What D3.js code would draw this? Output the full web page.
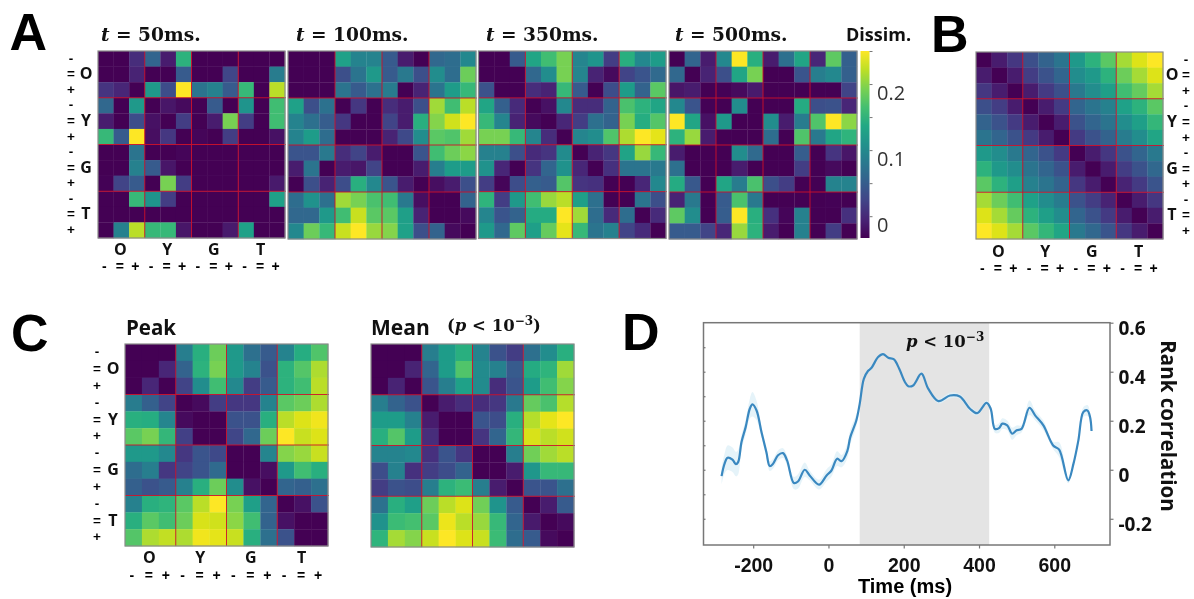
<!DOCTYPE html>
<html>
<head>
<meta charset="utf-8">
<script src="https://cdn.jsdelivr.net/npm/d3@7"></script>
<style>
  html,body{margin:0;padding:0;background:#fff;}
  svg{display:block;filter:blur(0.45px);}
  text{font-family:"Open Sans",sans-serif;fill:#111;}
  .serif{font-family:"DejaVu Serif",serif;font-weight:bold;}
  .sinal,.letra{font-family:"Liberation Sans",sans-serif;font-weight:bold;fill:#000;}
</style>
</head>
<body>
<div id="grafico"></div>
<script>
// niveis de cor 0-10 (0 = escuro, 10 = amarelo)
const t50=[
[0,0,1.5,3.4,1,6.5,0,0,.2,0,0,.2],
[0,0,1.2,.2,.2,3,0,0,2.3,0,0,4.3],
[1.7,1.3,0,5.5,2.5,10,4,4.5,3,6.8,0,9],
[3.5,0,5.5,.2,.8,.5,.2,3,.2,5.3,.1,7],
[1,0,2.5,.7,.2,2,.1,1,8,2,0,7],
[6.8,3,10,.6,1.8,.1,.4,.1,2,0,0,.7],
[0,0,4,.1,.1,.4,0,0,0,0,0,0],
[0,0,4.5,3,.8,.1,0,0,0,.2,0,0],
[.3,2.2,3,.1,8,2,0,0,0,0,0,.9],
[0,0,6.8,5.3,2,0,0,.2,0,0,0,5.8],
[0,0,0,0,0,0,0,0,0,0,0,0],
[0,4.5,9,6.8,6.8,.8,0,0,.9,5.8,0,0]];
const t100=[
[0,0,0,5.8,4.6,4.6,3,1,0,3.5,3.7,4.8],
[0,0,0,2.6,4,5.5,3,4.2,2.6,5,3.7,7.8],
[0,0,0,4,3,3.9,4.3,0,1.2,4,5.6,6.8],
[5.8,2.6,3.9,0,1.8,0,1.5,1,2.6,8.6,7,9],
[4.6,3.8,3.1,1.8,0,0,2.2,1,6.4,8.2,9.3,10],
[4.6,5.6,3.7,0,0,0,1.2,2.4,5,7.5,7.3,8.6],
[2.8,2.8,4.2,1.5,2.2,1,0,0,2.8,7,7.8,8.3],
[1,4,0,1,.8,2.2,0,0,1,4.4,5.6,5.6],
[0,2.6,1.2,2.5,6.4,4.8,2.8,1,0,.6,1,2.6],
[3.7,5.2,3.8,8.6,8,7.2,7,4.2,.6,0,0,3.3],
[3.5,3.5,5.5,7,9.2,7.5,7.5,5.7,1.2,0,0,.5],
[4.8,7.8,6.8,9.2,10,8.5,8.2,5.8,2.6,3.3,.5,0]];
const t350=[
[0,0,3,6,7,8,4.7,5.3,2,6.4,4.8,5.6],
[0,0,0,3.5,5,8,4.7,1.2,.5,2.2,2.8,3.6],
[2.7,0,0,1.5,1.2,6.8,3,0,2.5,5.6,3.3,7.5],
[6,3.2,1.4,0,.7,4.8,1.5,1.5,3.3,7.2,6.5,6],
[6.8,4.7,1.2,.5,0,1.3,2,3.8,3.3,8,6.3,7.4],
[8,8,6.8,4.7,1.5,0,4.7,5,7.3,8.8,10,9.6],
[4.5,4.5,2.6,1.4,1.7,4.9,0,1.2,1.8,5.9,8.5,6.8],
[5.2,1.3,0,1.7,3.4,5.2,1.3,0,1.6,4,4,4.2],
[2,.4,2.5,3.2,3,7.4,1.7,1.6,0,0,1.3,4.8],
[6.6,2,5.5,7,8.5,9,5.7,3.8,0,0,4,2.6],
[4.7,2.8,3.3,6.2,6.2,10,8.6,3.7,1.4,3.7,0,1.4],
[5.5,3.5,7.6,5.7,7.7,9.6,6.8,4,4.5,2.2,1.4,0]];
const t500=[
[0,3.4,1,4.8,10,6.4,1,3.8,6,1.3,7.6,3.2],
[3.5,0,1.2,2.6,6,8,0,0,2.8,4.4,4.8,3.2],
[.8,1,0,.3,.5,.9,0,0,0,0,0,2.2],
[4.8,2.8,.3,0,5,0,0,0,6.2,2.6,2.7,1.3],
[10,6,.7,5.5,0,0,5,1,4.3,7.3,10,8.3],
[6.5,8.5,1,0,0,0,3.7,.2,7.3,4.2,6,6.6],
[1,0,0,0,5,3.6,0,0,3.1,0,1.7,.8],
[3.8,0,0,0,1,0,0,0,2,0,.5,0],
[6.2,2.9,0,6,4.3,7.2,2.6,2,0,0,4.6,4.6],
[1.2,4.2,0,3,7.2,4.2,0,0,0,0,.3,0],
[7.6,5,0,3.1,10,6.4,1.6,.4,4.5,.2,0,1.6],
[3,3,2.2,1.3,8.5,6.5,1,.2,4.5,.2,2,0]];
const modelo=[
[0,1,1.8,2.6,3.3,4,5.5,6.5,7.5,8.7,9.5,10],
[1,0,1,2,2.7,3.4,5,5.5,6.5,7.8,8.7,9.5],
[1.8,1,0,1,1.9,2.6,4.2,5,5.7,7,7.7,8.7],
[2.6,2,1,0,1,1.9,3.4,4,4.5,5.8,6.5,7.5],
[3.3,2.7,1.9,1,0,1,2.7,3.4,4,5,5.7,6.7],
[4,3.4,2.7,1.9,1,0,1.9,2.7,3.3,4.3,5,6],
[5.5,5,4.2,3.4,2.7,1.9,0,1,1.8,2.7,3.4,4.2],
[6.5,5.5,5,4,3.4,2.7,1,0,1,2,2.7,3.5],
[7.5,6.5,5.7,4.5,4,3.3,1.8,1,0,1.2,1.9,2.8],
[8.7,7.8,7,5.8,5,4.3,2.7,2,1.2,0,1,1.8],
[9.5,8.7,7.7,6.5,5.7,5,3.4,2.7,1.9,1,0,1],
[10,9.5,8.7,7.5,6.7,6,4.2,3.5,2.8,1.8,1,0]];
const pico=[
[0,0,0,4.4,6.4,7.8,5.5,3.8,3,4.6,6.3,7.3],
[0,0,1.3,3.3,6.5,8,5.5,4.6,2.7,6.5,7.4,8.8],
[0,1.3,0,2.2,5,7,4.8,2,3,6.5,7,9],
[4.3,3.2,2.2,0,.5,2,1.8,1.8,4.6,7.5,7.8,8.8],
[6.4,6.3,4.7,.5,0,0,2.7,2.7,6.4,9,9.5,9.8],
[7.5,8,6.7,2.1,0,0,2.3,3.5,7.8,10,9.2,9.5],
[5.5,5.5,4.8,1.8,2.8,2.4,0,.2,4.7,8.2,8.5,9.2],
[3.7,4.4,1.8,2.2,2.8,3.6,.2,0,.6,5.5,7,6.4],
[3.2,2.7,3,4.5,6.4,7.8,5,.7,0,3.4,3.2,3.8],
[4.5,6.4,6.6,7.5,9,10,8,5.7,3.4,0,.7,2.7],
[6.4,7.5,7,7.8,9.4,9.3,8.3,7,3.3,.7,0,0],
[7.4,8.8,9.1,8.8,9.8,9.6,9.2,6.4,3.8,2.7,0,0]];
const media=[
[0,0,0,4.4,5.6,6.4,4.6,2.7,2,3.8,5,6.4],
[0,0,1.2,3.4,5.6,7.3,4.9,4.5,3,6.2,6.6,8.6],
[0,1.2,0,2.8,4.4,5.8,4.9,1.5,2.8,5.6,7,8.2],
[4.4,3.3,2.7,0,1,1.5,1.5,1.8,4.2,7.7,7.2,8.9],
[5.6,5.6,4.5,1,0,0,2.8,2.5,6.4,8.9,9.6,10],
[6.4,7.4,5.6,1.5,0,0,1.7,3.4,6.7,9.4,9,9.3],
[4.6,4.6,4.8,1.6,2.8,1.8,0,.1,4.4,7.9,8.6,9],
[2.5,4.5,1.6,2,2.5,3.3,.1,0,1,5.4,6.8,6.8],
[2,2.7,2.5,4.4,6.5,6.9,4.4,1,0,2.8,2.8,3.8],
[3.9,6.4,5.7,7.8,9,9.5,7.9,5.3,3,0,1,3],
[5.2,6.9,7.1,7.5,9.7,9,8.5,6.8,3.4,.9,0,.5],
[6.6,8.7,8.2,9.2,10,9.5,9.2,6.9,3.7,3,.5,0]];

const grupos=['O','Y','G','T'];
const sinais=['-','=','+'];
const ticksBarra=[0,0.05,0.1,0.15,0.2,0.25,-0.05];
const rotulosBarra=[0,0.1,0.2];

// painel D
const tempos=[-284,-276,-268,-255,-246,-240,-231,-220,-209,-202,-191,-178,-165,-156,-147,-134,-121,-110,-92,-81,-63,-50,-25,-5,8,23,35,50,58,74,83,94,105,114,132,145,159,174,188,203,212,225,247,265,292,323,349,376,395,420,431,442,453,462,475,488,500,513,534,549,571,597,613,637,651,664,677,688,695,699];
const correl=[-.026,.025,.049,.041,.023,.031,.113,.174,.249,.267,.242,.154,.072,.015,.025,.059,.068,.038,-.054,-.048,0,-.023,-.061,-.023,-.003,.045,.035,.076,.133,.201,.269,.371,.403,.415,.46,.472,.457,.45,.412,.358,.341,.344,.392,.331,.28,.303,.299,.249,.231,.273,.249,.167,.17,.188,.181,.147,.161,.167,.253,.222,.181,.099,.082,-.043,.025,.12,.235,.242,.215,.158];
const erro=[.035,.04,.05,.05,.05,.05,.03,.03,.04,.05,.04,.02,.02,.02,.02,.02,.02,.02,.025,.03,.03,.02,.02,.025,.025,.03,.025,.03,.03,.025,.01,.008,.008,.008,.006,.006,.006,.006,.006,.006,.006,.006,.006,.006,.01,.012,.01,.012,.01,.01,.012,.016,.02,.022,.02,.025,.02,.015,.03,.02,.02,.015,.03,.012,.012,.012,.02,.022,.018,.008];
const ticksX=[-200,0,200,400,600];
const ticksY=[-0.2,0,0.2,0.4,0.6];
const janela=[83,427];

const svg=d3.select('#grafico').append('svg').attr('width',1194).attr('height',599);
const cor=d3.scaleSequential(d3.interpolateViridis).domain([.25,10]).clamp(true);
const vermelho='#cf1029';
const idx=d3.range(12);

function matriz(dados,x0,y0,lado,ladoY){
  const g=svg.append('g');
  const x=d3.scaleBand().domain(idx).range([x0,x0+lado]);
  const y=d3.scaleBand().domain(idx).range([y0,y0+(ladoY||lado)]);
  g.selectAll('g').data(dados).join('g').selectAll('rect')
    .data((linha,i)=>linha.map((v,j)=>({v,i,j})))
    .join('rect')
    .attr('x',d=>x(d.j)).attr('y',d=>y(d.i))
    .attr('width',x.bandwidth()+.3).attr('height',y.bandwidth()+.3)
    .attr('fill',d=>cor(d.v));
  for(const k of [3,6,9]){
    g.append('line').attr('x1',x(k)).attr('x2',x(k)).attr('y1',y0).attr('y2',y0+(ladoY||lado))
      .attr('stroke',vermelho).attr('stroke-width',.9);
    g.append('line').attr('x1',x0).attr('x2',x0+lado+1).attr('y1',y(k)).attr('y2',y(k))
      .attr('stroke',vermelho).attr('stroke-width',.9);
  }
  g.append('rect').attr('x',x0).attr('y',y0).attr('width',lado).attr('height',ladoY||lado)
    .attr('fill','none').attr('stroke','#8a8a8a').attr('stroke-width',1.2);
  return {x,y};
}

function rotulosLinha(esc,xSinal,xGrupo){
  idx.forEach(i=>{
    svg.append('text').attr('class','sinal').attr('x',xSinal).attr('y',esc.y(i)+esc.y.bandwidth()/2-1)
      .attr('dy','.36em').attr('text-anchor','middle')
      .attr('font-size',13.5).text(sinais[i%3]);
    if(i%3==1){
      svg.append('text').attr('x',xGrupo).attr('y',esc.y(i)+esc.y.bandwidth()/2-1)
        .attr('dy','.36em').attr('text-anchor','middle')
        .attr('font-size',16).attr('font-weight',700).text(grupos[(i-1)/3]);
    }
  });
}

function rotulosColuna(esc,yGrupo,ySinal){
  idx.forEach(i=>{
    svg.append('text').attr('class','sinal').attr('x',esc.x(i)+esc.x.bandwidth()/2-1.5).attr('y',ySinal)
      .attr('dy','.36em').attr('text-anchor','middle')
      .attr('font-size',14).text(sinais[i%3]);
    if(i%3==1){
      svg.append('text').attr('x',esc.x(i)+esc.x.bandwidth()/2-1).attr('y',yGrupo)
        .attr('dy','.36em').attr('text-anchor','middle')
        .attr('font-size',16).attr('font-weight',700).text(grupos[(i-1)/3]);
    }
  });
}

function letra(t,x,y){
  svg.append('text').attr('class','letra').attr('x',x).attr('y',y).attr('font-size',52).text(t);
}

function tituloT(ms,x){
  const t=svg.append('text').attr('class','serif').attr('x',x).attr('y',41).attr('font-size',18.6);
  t.append('tspan').attr('font-style','italic').text('t');
  t.append('tspan').text(' = '+ms+'ms.');
}

// A
letra('A',9.5,50);
const a1=matriz(t50,98,51,187);
rotulosLinha(a1,71,86);
rotulosColuna(a1,249,266);
matriz(t100,288,51,188);
matriz(t350,478.5,51,187.5);
matriz(t500,669,51,188);
tituloT(50,101);
tituloT(100,296);
tituloT(350,486);
tituloT(500,675);
svg.append('text').attr('x',846).attr('y',41).attr('font-size',18).attr('font-weight',700).text('Dissim.');

// barra de cor
const yBarra=d3.scaleLinear().domain([-0.033,0.25]).range([238,51]);
const degr=svg.append('defs').append('linearGradient').attr('id','degr').attr('x1',0).attr('x2',0).attr('y1',1).attr('y2',0);
d3.range(0,1.01,.1).forEach(p=>degr.append('stop').attr('offset',p).attr('stop-color',d3.interpolateViridis(p)));
svg.append('rect').attr('x',860.5).attr('y',51).attr('width',9).attr('height',187).attr('fill','url(#degr)');
const eixoBarra=svg.append('g').attr('transform','translate(869.5,0)')
  .call(d3.axisRight(yBarra).tickValues(ticksBarra.filter(v=>v>-0.04)).tickSize(3).tickFormat(''));
eixoBarra.select('.domain').remove();
eixoBarra.selectAll('line').attr('stroke','#777');
rotulosBarra.forEach(v=>{
  svg.append('text').attr('x',877).attr('y',yBarra(v)+9).attr('dy','.36em')
    .attr('font-size',20).style('fill','#333').text(v);
});

// B
letra('B',931,52);
const b=matriz(modelo,976,52,187);
idx.forEach(i=>{
  svg.append('text').attr('class','sinal').attr('x',1186).attr('y',b.y(i)+b.y.bandwidth()/2-1).attr('dy','.36em')
    .attr('text-anchor','middle').attr('font-size',13.5).text(sinais[i%3]);
  if(i%3==1) svg.append('text').attr('x',1172).attr('y',b.y(i)+b.y.bandwidth()/2-1).attr('dy','.36em')
    .attr('text-anchor','middle').attr('font-size',16).attr('font-weight',700).text(grupos[(i-1)/3]);
});
rotulosColuna(b,251,268);

// C
letra('C',11,351);
svg.append('text').attr('x',126).attr('y',335).attr('font-size',20.5).attr('font-weight',700).text('Peak');
const c=matriz(pico,125,344,203,202);
rotulosLinha(c,97,113);
rotulosColuna(c,557,575);
svg.append('text').attr('x',371).attr('y',335).attr('font-size',21).attr('font-weight',700).text('Mean');
const pm=svg.append('text').attr('class','serif').attr('x',447).attr('y',331).attr('font-size',16.5);
pm.append('tspan').text('(');
pm.append('tspan').attr('font-style','italic').text('p');
pm.append('tspan').text(' < 10');
pm.append('tspan').attr('dy',-6).attr('font-size',12).text('−3');
pm.append('tspan').attr('dy',6).text(')');
matriz(media,371,344,203,203);

// D
letra('D',622,350);
const xD=d3.scaleLinear().domain([-332,748]).range([703.5,1110]);
const yD=d3.scaleLinear().domain([-0.307,0.6]).range([545,322.7]);
svg.append('rect').attr('x',xD(janela[0])).attr('y',yD(0.6))
  .attr('width',xD(janela[1])-xD(janela[0])).attr('height',yD(-0.307)-yD(0.6)).attr('fill','#e4e4e4');
const pontos=tempos.map((t,i)=>({t,c:correl[i],e:erro[i]}));
svg.append('path').datum(pontos).attr('fill','#dff0f8').attr('fill-opacity',.8)
  .attr('d',d3.area().x(d=>xD(d.t)).y0(d=>yD(d.c-d.e)).y1(d=>yD(d.c+d.e)).curve(d3.curveCatmullRom));
svg.append('path').datum(pontos).attr('fill','none').attr('stroke','#3a88c0').attr('stroke-width',2.2)
  .attr('d',d3.line().x(d=>xD(d.t)).y(d=>yD(d.c)).curve(d3.curveCatmullRom));
svg.append('rect').attr('x',703.5).attr('y',322.7).attr('width',406.5).attr('height',222.3)
  .attr('fill','none').attr('stroke','#777').attr('stroke-width',1.5);

const eixoX=svg.append('g').attr('transform','translate(0,545)')
  .call(d3.axisBottom(xD).tickValues(ticksX).tickSize(3.5).tickPadding(5).tickFormat(d=>d));
const eixoY=svg.append('g').attr('transform','translate(1110,0)')
  .call(d3.axisRight(yD).tickValues(ticksY).tickSize(3.5).tickPadding(5).tickFormat(d=>d));
// marcas pequenas por dentro, lado esquerdo
const eixoE=svg.append('g').attr('transform','translate(703.5,0)')
  .call(d3.axisRight(yD).tickValues([-0.2,-0.1,0,0.1,0.2,0.3,0.4,0.5]).tickSize(2).tickFormat(''));
[eixoX,eixoY,eixoE].forEach(e=>{
  e.select('.domain').remove();
  e.selectAll('line').attr('stroke','#777').attr('stroke-width',1.2);
  e.selectAll('text').attr('font-size',19).attr('font-weight',700).style('font-family','"Open Sans",sans-serif').style('fill','#111');
});
eixoX.selectAll('text').attr('dy','.95em').attr('font-size',19.5).style('font-family','"Liberation Sans",sans-serif');
eixoY.selectAll('text').attr('dy','.62em');
svg.append('text').attr('class','sinal').attr('x',905).attr('y',593).attr('text-anchor','middle').attr('font-size',20).text('Time (ms)');
svg.append('text').attr('transform','translate(1161,426) rotate(90)').attr('text-anchor','middle')
  .attr('font-size',20.5).attr('font-weight',700).text('Rank correlation');
const pd=svg.append('text').attr('class','serif').attr('x',906).attr('y',347).attr('font-size',16.5);
pd.append('tspan').attr('font-style','italic').text('p');
pd.append('tspan').text(' < 10');
pd.append('tspan').attr('dy',-6).attr('font-size',12).text('−3');
</script>
</body>
</html>
